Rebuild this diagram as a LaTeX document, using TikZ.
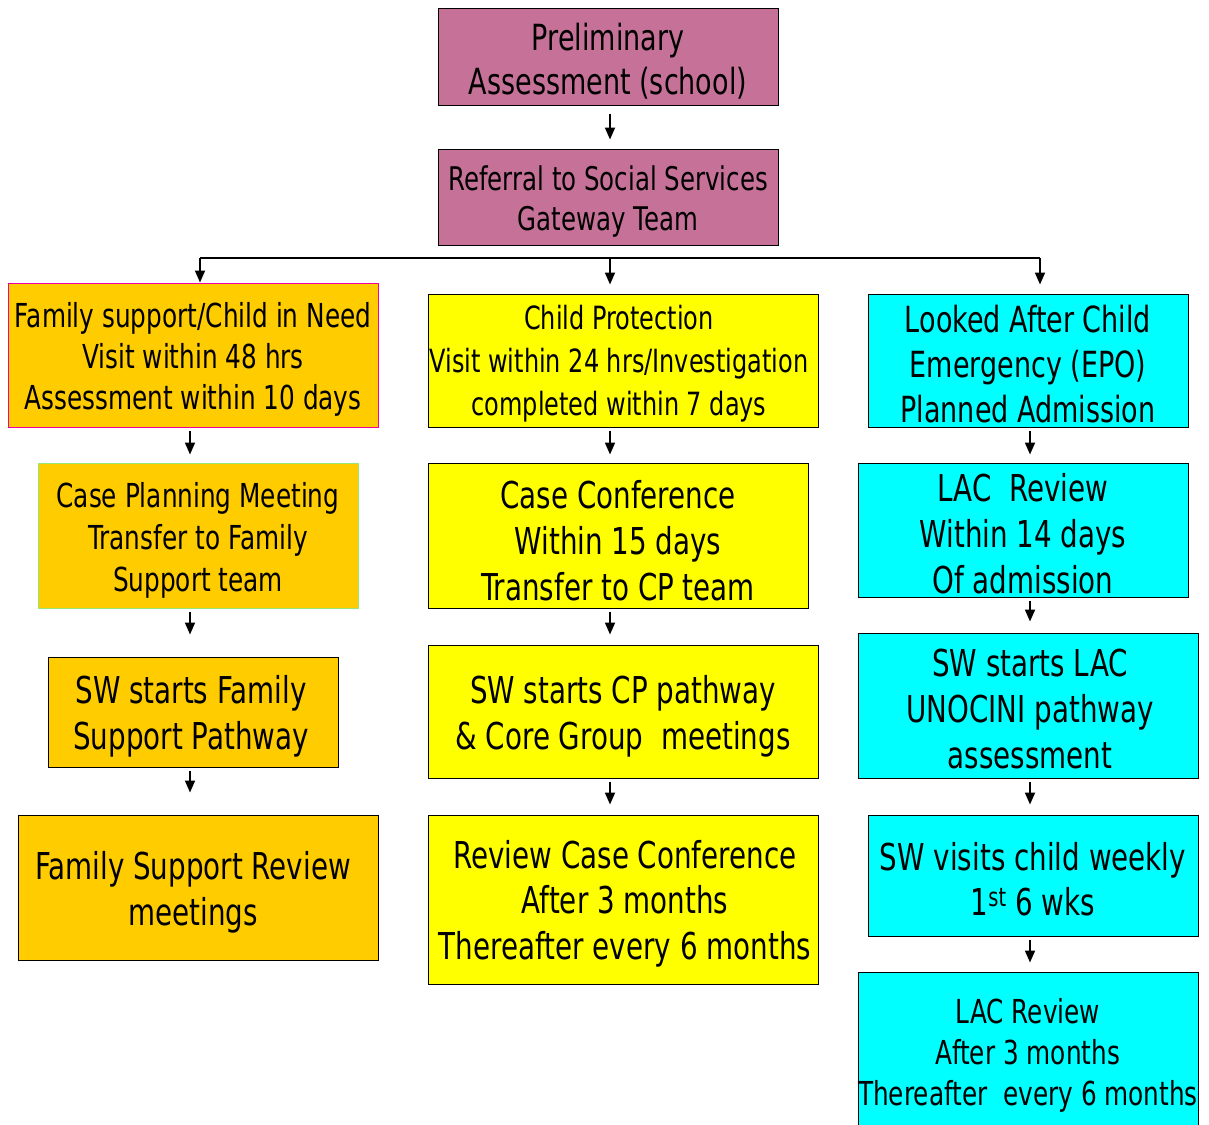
\documentclass[tikz,border=0pt]{standalone}
\usepackage{fontspec}
\setmainfont{DejaVu Sans}[FakeStretch=0.75]
\usetikzlibrary{arrows.meta}
\definecolor{mauve}{RGB}{198,113,152}
\definecolor{orng}{RGB}{255,204,0}
\definecolor{yel}{RGB}{255,255,0}
\definecolor{cyn}{RGB}{0,255,255}
\definecolor{pinkb}{RGB}{240,0,160}
\definecolor{greenb}{RGB}{150,230,120}
\tikzset{
  box/.style={draw=black, line width=1pt, inner sep=0pt, rectangle},
  txt/.style={align=center, inner sep=0pt, text=black, yshift=-2pt},
  arr/.style={line width=1.8pt, -{Triangle[length=12pt,width=10pt]}},
}
\newcommand{\fs}[2]{\fontsize{#1}{#2}\selectfont}
\begin{document}
\begin{tikzpicture}[x=1pt,y=-1pt]
\useasboundingbox (0,0) rectangle (1209,1124);
% top
\node[box, fill=mauve, minimum width=340pt, minimum height=96pt] (pre) at (608,57) {};
\node[txt, font=\fs{36}{44}] (pret) at (608,59) {Preliminary\\Assessment (school)};
\node[box, fill=mauve, minimum width=340pt, minimum height=96pt] (ref) at (608,197) {};
\node[txt, font=\fs{32.6}{40}] (reft) at (608,200) {Referral to Social Services\\Gateway Team};
% column 1
\node[box, draw=pinkb, fill=orng, minimum width=370pt, minimum height=144pt] (fam) at (193,355) {};
\node[txt, font=\fs{33}{41}] (famt) at (193,357) {Family support/Child in Need\\Visit within 48 hrs\\Assessment within 10 days};
\node[box, draw=greenb, fill=orng, minimum width=320pt, minimum height=145pt] (cpm) at (198,535.5) {};
\node[txt, font=\fs{33}{42}] (cpmt) at (198,538.5) {Case Planning Meeting\\Transfer to Family\\Support team};
\node[box, fill=orng, minimum width=290pt, minimum height=110pt] (swf) at (193,712) {};
\node[txt, font=\fs{37}{46}] (swft) at (191,714) {SW starts Family\\Support Pathway};
\node[box, fill=orng, minimum width=360pt, minimum height=145pt] (fsr) at (198,887.5) {};
\node[txt, font=\fs{37}{46}] (fsrt) at (193,890) {Family Support Review\\meetings};
% column 2
\node[box, fill=yel, minimum width=390pt, minimum height=133pt] (cp) at (623,360.5) {};
\node[txt, font=\fs{32}{43}] (cpt) at (619,362) {Child Protection\\Visit within 24 hrs/Investigation\\completed within 7 days};
\node[box, fill=yel, minimum width=380pt, minimum height=145pt] (cc) at (618,535.5) {};
\node[txt, font=\fs{37}{46}] (cct) at (618,538.5) {Case Conference\\Within 15 days\\Transfer to CP team};
\node[box, fill=yel, minimum width=390pt, minimum height=133pt] (swcp) at (623,711.5) {};
\node[txt, font=\fs{37}{46}] (swcpt) at (623,714) {SW starts CP pathway\\\& Core Group\ \ meetings};
\node[box, fill=yel, minimum width=390pt, minimum height=169pt] (rcc) at (623,899.5) {};
\node[txt, font=\fs{37}{45.5}] (rcct) at (625,901.5) {Review Case Conference\\After 3 months\\Thereafter every 6 months};
% column 3
\node[box, fill=cyn, minimum width=320pt, minimum height=133pt] (lac) at (1028,360.5) {};
\node[txt, font=\fs{36}{45}] (lact) at (1028,362.5) {Looked After Child\\Emergency (EPO)\\Planned Admission};
\node[box, fill=cyn, minimum width=330pt, minimum height=134pt] (lacr) at (1023,530) {};
\node[txt, font=\fs{37}{46}] (lacrt) at (1023,532) {LAC\ \ Review\\Within 14 days\\Of admission};
\node[box, fill=cyn, minimum width=340pt, minimum height=145pt] (swlac) at (1028,705.5) {};
\node[txt, font=\fs{37}{46}] (swlact) at (1030,707) {SW starts LAC\\UNOCINI pathway\\assessment};
\node[box, fill=cyn, minimum width=330pt, minimum height=121pt] (swv) at (1033,875.5) {};
\node[txt, font=\fs{37}{45}] (swvt) at (1033,877.5) {SW visits child weekly\\1\textsuperscript{st} 6 wks};
\node[box, fill=cyn, minimum width=340pt, minimum height=162pt] (lacf) at (1028,1053) {};
\node[txt, font=\fs{33}{41}] (lacft) at (1028,1053) {LAC Review\\After 3 months\\Thereafter\ \ every 6 months};
% connectors
\draw[arr, shorten <=8pt, shorten >=9pt] (pre.south -| 610,0) -- (ref.north -| 610,0);
\coordinate (bl) at (200,258);
\coordinate (bm) at (610,258);
\coordinate (br) at (1040,258);
\draw[line width=1.5pt] (bl) -- (br);
\draw[arr] (bl) -- (bl |- fam.north);
\draw[arr, shorten >=9pt] (bm) -- (bm |- cp.north);
\draw[arr, shorten >=9pt] (br) -- (br |- lac.north);
\coordinate (ca) at (190,0);
\coordinate (cb) at (610,0);
\coordinate (cc3) at (1030,0);
\draw[arr, shorten <=3pt, shorten >=8pt] (fam.south -| ca) -- (cpm.north -| ca);
\draw[arr, shorten <=3pt, shorten >=22pt] (cpm.south -| ca) -- (swf.north -| ca);
\draw[arr, shorten <=3pt, shorten >=22pt] (swf.south -| ca) -- (fsr.north -| ca);
\draw[arr, shorten <=3pt, shorten >=8pt] (cp.south -| cb) -- (cc.north -| cb);
\draw[arr, shorten <=3pt, shorten >=10pt] (cc.south -| cb) -- (swcp.north -| cb);
\draw[arr, shorten <=3pt, shorten >=10pt] (swcp.south -| cb) -- (rcc.north -| cb);
\draw[arr, shorten <=3pt, shorten >=8pt] (lac.south -| cc3) -- (lacr.north -| cc3);
\draw[arr, shorten <=3pt, shorten >=11pt] (lacr.south -| cc3) -- (swlac.north -| cc3);
\draw[arr, shorten <=3pt, shorten >=10pt] (swlac.south -| cc3) -- (swv.north -| cc3);
\draw[arr, shorten <=3pt, shorten >=9pt] (swv.south -| cc3) -- (lacf.north -| cc3);
\end{tikzpicture}
\end{document}
